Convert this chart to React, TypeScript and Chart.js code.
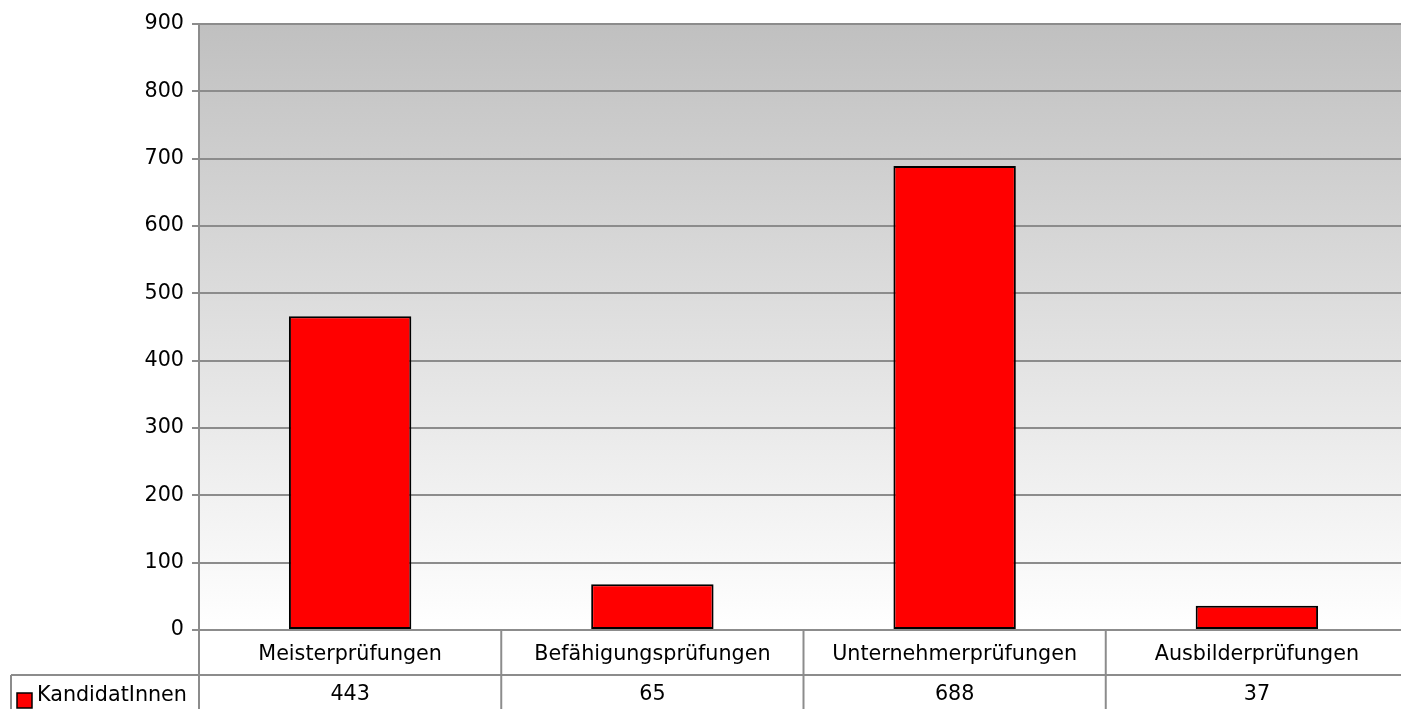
import React, { useEffect, useRef } from "react";
import { Chart, registerables } from "chart.js";

Chart.register(...registerables);

const categories = ["Meisterprüfungen", "Befähigungsprüfungen", "Unternehmerprüfungen", "Ausbilderprüfungen"];
const seriesName = "KandidatInnen";
const barValues = [466, 68, 689, 36];
const tableValues = ["443", "65", "688", "37"];
const yTicks = [0, 100, 200, 300, 400, 500, 600, 700, 800, 900];

const FONT = "'DejaVu Sans', sans-serif";
const FSIZE = 20.7;
const GRID = "#8c8c8c";

const bgPlugin = {
  id: "bgGradient",
  beforeDraw(chart: any) {
    const { ctx, chartArea } = chart;
    const g = ctx.createLinearGradient(0, chartArea.top, 0, chartArea.bottom);
    g.addColorStop(0, "#c0c0c0");
    g.addColorStop(1, "#ffffff");
    ctx.save();
    ctx.fillStyle = g;
    ctx.fillRect(chartArea.left, chartArea.top, chartArea.right - chartArea.left, chartArea.bottom - chartArea.top);
    ctx.restore();
  },
};

const tablePlugin = {
  id: "dataTable",
  afterDraw(chart: any) {
    const { ctx, chartArea } = chart;
    const left = chartArea.left;
    const right = chartArea.right;
    const n = categories.length;
    const colW = (right - left) / n;
    const top = chartArea.bottom;
    const mid = top + 45;
    const bottom = chart.height;
    ctx.save();
    ctx.strokeStyle = GRID;
    ctx.lineWidth = 2;
    ctx.beginPath();
    ctx.moveTo(11, mid);
    ctx.lineTo(right, mid);
    ctx.stroke();
    for (let i = 0; i <= n; i++) {
      const x = left + colW * i;
      ctx.beginPath();
      ctx.moveTo(x, top);
      ctx.lineTo(x, bottom);
      ctx.stroke();
    }
    ctx.beginPath();
    ctx.moveTo(11, mid);
    ctx.lineTo(11, bottom);
    ctx.stroke();
    ctx.fillStyle = "#000000";
    ctx.font = `${FSIZE}px ${FONT}`;
    ctx.textAlign = "center";
    ctx.textBaseline = "middle";
    for (let i = 0; i < n; i++) {
      const cx = left + colW * (i + 0.5);
      ctx.fillText(categories[i], cx, top + 25);
      ctx.fillText(tableValues[i], cx, mid + 20);
    }
    ctx.fillStyle = "#ff0000";
    ctx.fillRect(17, mid + 18, 15, 15);
    ctx.strokeStyle = "#000000";
    ctx.lineWidth = 1.5;
    ctx.strokeRect(17, mid + 18, 15, 15);
    ctx.fillStyle = "#000000";
    ctx.textAlign = "left";
    ctx.fillText(seriesName, 37, mid + 21);
    ctx.restore();
  },
};

export default function App() {
  const ref = useRef<HTMLCanvasElement>(null);
  useEffect(() => {
    if (!ref.current) return;
    const chart = new Chart(ref.current, {
      type: "bar",
      data: {
        labels: categories,
        datasets: [
          {
            label: seriesName,
            data: barValues,
            backgroundColor: "#ff0000",
            borderColor: "#000000",
            borderWidth: 2,
            borderSkipped: false,
            barPercentage: 0.405,
            categoryPercentage: 1,
          },
        ],
      },
      options: {
        animation: false,
        responsive: false,
        devicePixelRatio: 1,
        layout: { padding: { top: 24, right: 8, bottom: 82, left: 0 } },
        plugins: { legend: { display: false }, tooltip: { enabled: false } },
        scales: {
          x: {
            display: false,
            grid: { display: false },
          },
          y: {
            min: 0,
            max: 900,
            afterBuildTicks(axis: any) {
              axis.ticks = yTicks.map((v) => ({ value: v }));
            },
            afterFit(axis: any) {
              axis.width = 199;
            },
            ticks: {
              color: "#000000",
              font: { family: FONT, size: FSIZE },
              padding: 8,
            },
            grid: {
              color: GRID,
              lineWidth: 2,
              tickLength: 7,
              drawTicks: true,
            },
            border: { color: GRID, width: 2 },
          },
        },
      },
      plugins: [bgPlugin, tablePlugin],
    });
    return () => chart.destroy();
  }, []);
  return (
    <div style={{ position: "absolute", left: 0, top: 0, width: 1401, height: 709, overflow: "hidden", background: "#fff" }}>
      <canvas ref={ref} width={1416} height={712} style={{ display: "block" }} />
    </div>
  );
}
